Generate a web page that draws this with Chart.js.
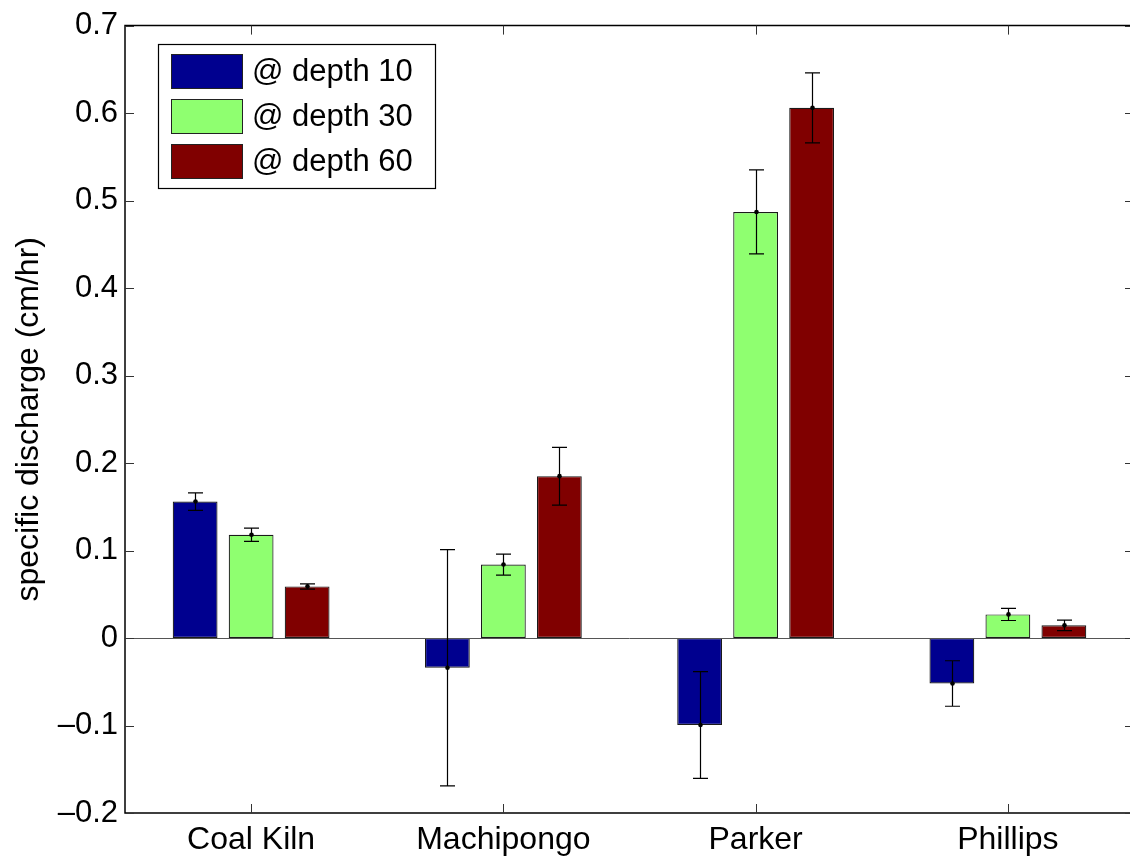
<!DOCTYPE html>
<html>
<head>
<meta charset="utf-8">
<script src="https://cdn.jsdelivr.net/npm/chart.js@4"></script>
<style>
  html, body { margin: 0; padding: 0; background: #fff; width: 1130px; height: 856px; overflow: hidden; }
  #wrap { width: 1136px; height: 856px; position: relative; }
</style>
</head>
<body>
<div id="wrap"><canvas id="c"></canvas></div>
<script>
// Sites along the x axis
const categories = ['Coal Kiln', 'Machipongo', 'Parker', 'Phillips'];

// Mean specific discharge (cm/hr) per depth
const depth10 = [0.156, -0.034, -0.0995, -0.052];
const depth30 = [0.118, 0.084, 0.487, 0.027];
const depth60 = [0.059, 0.185, 0.606, 0.0145];

// Half-width of the error bars (cm/hr)
const err10 = [0.010, 0.135, 0.061, 0.026];
const err30 = [0.0075, 0.012, 0.048, 0.007];
const err60 = [0.003, 0.033, 0.040, 0.006];

const seriesLabels = ['@ depth 10', '@ depth 30', '@ depth 60'];
const yTicks = [-0.2, -0.1, 0, 0.1, 0.2, 0.3, 0.4, 0.5, 0.6, 0.7];

const FONT = '"Liberation Sans", Arial, Helvetica, sans-serif';
const colors = ['#00008f', '#8fff70', '#800000'];

function fmtTick(v) {
  const r = Math.round(v * 10) / 10;
  if (r === 0) return '0';
  return (r < 0 ? '\u2013' : '') + Math.abs(r).toFixed(1);
}

// Axes box with inward ticks, zero baseline, error bars and legend
const decorations = {
  id: 'decorations',
  afterDatasetsDraw(chart) {
    const ctx = chart.ctx;
    const { left, right, top, bottom } = chart.chartArea;
    const x = chart.scales.x, y = chart.scales.y;
    ctx.save();

    // baseline at zero
    const y0 = Math.round(y.getPixelForValue(0)) + 0.5;
    ctx.strokeStyle = '#555';
    ctx.lineWidth = 1;
    ctx.beginPath(); ctx.moveTo(left, y0); ctx.lineTo(right, y0); ctx.stroke();

    // error bars
    const errs = [err10, err30, err60];
    chart.data.datasets.forEach((ds, di) => {
      const meta = chart.getDatasetMeta(di);
      meta.data.forEach((bar, i) => {
        const v = ds.data[i], e = errs[di][i];
        const cx = Math.round(bar.x) + 0.5;
        const yt = y.getPixelForValue(v + e);
        const yb = y.getPixelForValue(v - e);
        const yv = y.getPixelForValue(v);
        ctx.strokeStyle = '#000';
        ctx.lineWidth = 1.2;
        ctx.beginPath();
        ctx.moveTo(cx, yt); ctx.lineTo(cx, yb);
        ctx.moveTo(cx - 7.5, yt); ctx.lineTo(cx + 7.5, yt);
        ctx.moveTo(cx - 7.5, yb); ctx.lineTo(cx + 7.5, yb);
        ctx.stroke();
        ctx.fillStyle = '#000';
        ctx.beginPath(); ctx.arc(cx, yv, 2.3, 0, Math.PI * 2); ctx.fill();
      });
    });

    // frame: top, left and bottom edges (right edge lies past the page)
    ctx.strokeStyle = '#000';
    ctx.lineWidth = 1.5;
    ctx.beginPath();
    ctx.moveTo(right + 2, top); ctx.lineTo(left, top);
    ctx.lineTo(left, bottom); ctx.lineTo(right + 2, bottom);
    ctx.stroke();

    // inward ticks
    ctx.lineWidth = 1;
    ctx.strokeStyle = '#333';
    const tl = 9;
    ctx.beginPath();
    y.ticks.forEach(t => {
      const py = Math.round(y.getPixelForValue(t.value)) + 0.5;
      ctx.moveTo(left, py); ctx.lineTo(left + tl, py);
      ctx.moveTo(right, py); ctx.lineTo(right - tl, py);
    });
    categories.forEach((c, i) => {
      const px = Math.round(x.getPixelForValue(i)) + 0.5;
      ctx.moveTo(px, bottom); ctx.lineTo(px, bottom - tl);
      ctx.moveTo(px, top); ctx.lineTo(px, top + tl);
    });
    ctx.stroke();

    // legend
    const lx = 158, ly = 44, lw = 277, lh = 144;
    ctx.fillStyle = '#fff';
    ctx.fillRect(lx, ly, lw, lh);
    ctx.strokeStyle = '#000';
    ctx.lineWidth = 1.2;
    ctx.strokeRect(lx + 0.5, ly + 0.5, lw, lh);
    ctx.font = '31px ' + FONT;
    ctx.textBaseline = 'middle';
    ctx.textAlign = 'left';
    seriesLabels.forEach((lab, i) => {
      const sy = 54 + i * 45;
      ctx.fillStyle = colors[i];
      ctx.fillRect(171, sy, 71, 34);
      ctx.strokeStyle = '#222';
      ctx.lineWidth = 1;
      ctx.strokeRect(171.5, sy + 0.5, 71, 34);
      ctx.fillStyle = '#000';
      ctx.fillText(lab, 252, sy + 18);
    });
    ctx.restore();
  }
};

new Chart(document.getElementById('c'), {
  type: 'bar',
  data: {
    labels: categories,
    datasets: [depth10, depth30, depth60].map((d, i) => ({
      label: seriesLabels[i],
      data: d,
      backgroundColor: colors[i],
      borderColor: '#1a1a1a',
      borderWidth: 1.2,
      borderSkipped: false,
      categoryPercentage: 0.666,
      barPercentage: 0.8
    }))
  },
  options: {
    responsive: true,
    maintainAspectRatio: false,
    animation: false,
    layout: { padding: { top: 20, right: 2, left: 0, bottom: 0 } },
    plugins: { legend: { display: false }, tooltip: { enabled: false } },
    scales: {
      x: {
        grid: { display: false, drawTicks: false },
        border: { display: false },
        ticks: { color: '#000', font: { family: FONT, size: 32 }, padding: 8, maxRotation: 0 },
        afterFit(s) { s.height = 43; }
      },
      y: {
        min: -0.2,
        max: 0.7,
        afterBuildTicks(s) { s.ticks = yTicks.map(v => ({ value: v })); },
        grid: { display: false, drawTicks: false },
        border: { display: false },
        ticks: { color: '#000', font: { family: FONT, size: 31 }, padding: 7, callback: v => fmtTick(v) },
        title: {
          display: true,
          text: 'specific discharge (cm/hr)',
          color: '#000',
          font: { family: FONT, size: 32 },
          padding: { top: 10, bottom: 0 }
        },
        afterFit(s) { s.width = 125; }
      }
    }
  },
  plugins: [decorations]
});
</script>
</body>
</html>
